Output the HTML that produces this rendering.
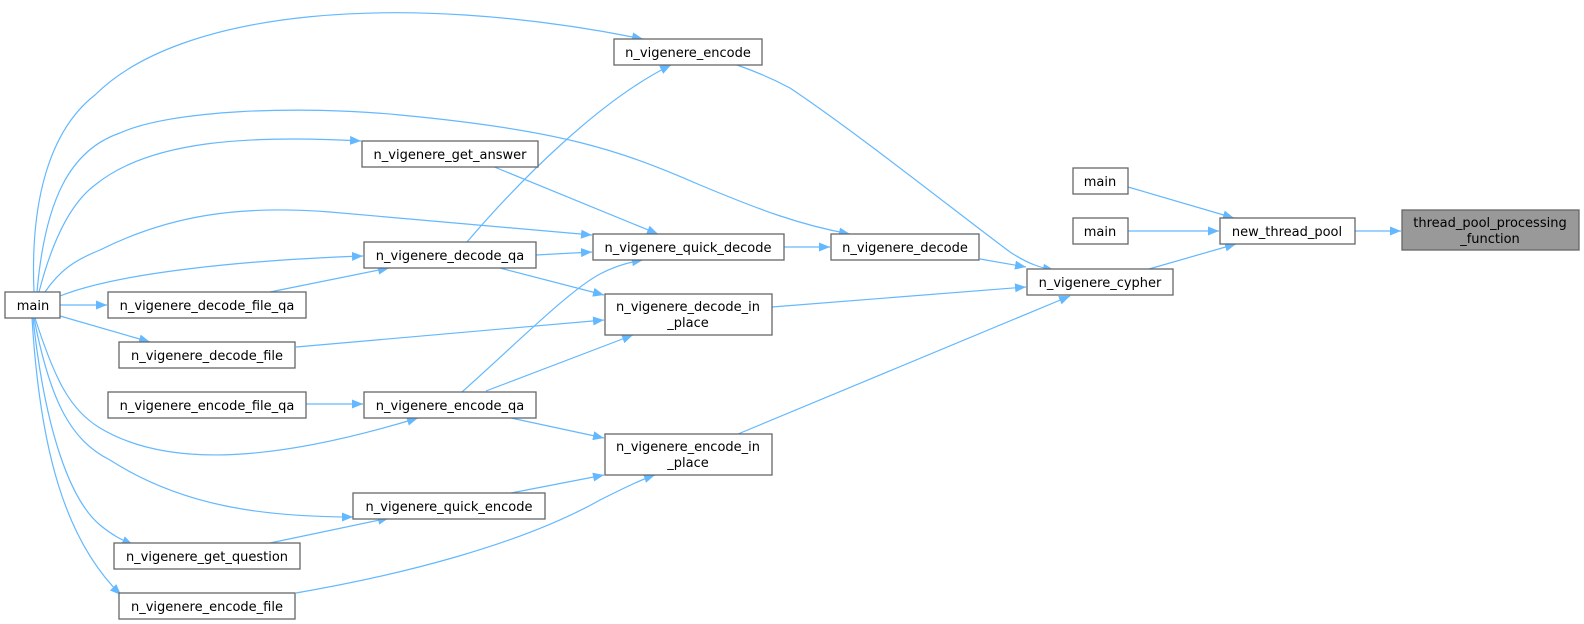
<!DOCTYPE html>
<html><head><meta charset="utf-8"><style>
html,body{margin:0;padding:0;background:#fff;}
svg{display:block;}
text{font-family:"DejaVu Sans","Liberation Sans",sans-serif;font-size:13px;fill:#000;text-anchor:middle;}
.n{fill:#fff;stroke:#666;stroke-width:1.3;}
.e{fill:none;stroke:#63b8ff;stroke-width:1.2;marker-end:url(#a);}
</style></head><body>
<svg width="1584" height="624" viewBox="0 0 1584 624" xmlns="http://www.w3.org/2000/svg">
<defs><marker id="a" markerUnits="userSpaceOnUse" markerWidth="12" markerHeight="10" refX="11" refY="4.5" orient="auto"><path d="M0,0 L11,4.5 L0,9 Z" fill="#63b8ff"/></marker></defs>

<!-- edges -->
<path class="e" d="M1355,231 L1401,231"/>
<path class="e" d="M1128,187 L1234,218"/>
<path class="e" d="M1128,231 L1219,231"/>
<path class="e" d="M1149,269 L1236,244"/>
<path class="e" d="M737,65 C760,73 775,80 790,88 C860,135 960,215 1010,252 C1030,265 1042,268 1054,270"/>
<path class="e" d="M980,259 L1026,267"/>
<path class="e" d="M772,307 L1026,287"/>
<path class="e" d="M738,434 L1070,296"/>
<path class="e" d="M784,247 L830,247"/>
<path class="e" d="M37,292 C45,200 70,150 120,133 C170,110 300,105 400,115 C560,130 620,150 700,185 C760,210 800,225 850,234"/>
<path class="e" d="M34,292 C30,200 50,130 95,95 C180,10 400,-10 643,39"/>
<path class="e" d="M39,292 C55,230 75,200 95,185 C150,140 250,135 361,141"/>
<path class="e" d="M45,292 C60,270 75,260 100,250 C170,215 240,205 330,212 C450,222 530,230 592,235"/>
<path class="e" d="M60,296 C120,272 250,260 363,256"/>
<path class="e" d="M60,305 L107,305"/>
<path class="e" d="M60,316 L150,342"/>
<path class="e" d="M35,318 C55,380 70,410 100,428 C170,470 280,460 418,418"/>
<path class="e" d="M34,318 C50,400 70,440 110,460 C180,505 260,517 353,517"/>
<path class="e" d="M33,318 C45,430 70,500 100,525 C112,535 122,540 133,545"/>
<path class="e" d="M32,318 C40,450 65,540 121,595"/>
<path class="e" d="M492,166 L658,234"/>
<path class="e" d="M536,255 L592,252"/>
<path class="e" d="M467,242 C520,180 600,100 671,65"/>
<path class="e" d="M500,268 L604,295"/>
<path class="e" d="M270,292 L389,268"/>
<path class="e" d="M296,347 L604,320"/>
<path class="e" d="M462,392 C520,340 570,290 600,274 C615,266 630,262 643,260"/>
<path class="e" d="M486,391 L633,335"/>
<path class="e" d="M306,404 L363,404"/>
<path class="e" d="M511,418 L604,438"/>
<path class="e" d="M511,493 L604,475"/>
<path class="e" d="M270,543 L389,518"/>
<path class="e" d="M296,593 C400,575 520,545 600,500 C620,490 640,480 655,475"/>

<!-- nodes -->
<rect x="1402" y="210" width="177" height="40" fill="#999" stroke="#666" stroke-width="1.3"/>
<text x="1490" y="227">thread_pool_processing</text><text x="1490" y="243">_function</text>
<rect class="n" x="1220" y="218" width="135" height="26"/><text x="1287" y="236">new_thread_pool</text>
<rect class="n" x="1073" y="168" width="55" height="26"/><text x="1100" y="186">main</text>
<rect class="n" x="1073" y="218" width="55" height="26"/><text x="1100" y="236">main</text>
<rect class="n" x="1027" y="269" width="146" height="26"/><text x="1100" y="287">n_vigenere_cypher</text>
<rect class="n" x="614" y="39" width="148" height="26"/><text x="688" y="57">n_vigenere_encode</text>
<rect class="n" x="831" y="234" width="148" height="26"/><text x="905" y="252">n_vigenere_decode</text>
<rect class="n" x="362" y="141" width="176" height="26"/><text x="450" y="159">n_vigenere_get_answer</text>
<rect class="n" x="593" y="234" width="191" height="26"/><text x="688" y="252">n_vigenere_quick_decode</text>
<rect class="n" x="364" y="242" width="172" height="26"/><text x="450" y="260">n_vigenere_decode_qa</text>
<rect class="n" x="605" y="294" width="167" height="41"/><text x="688" y="311">n_vigenere_decode_in</text><text x="688" y="327">_place</text>
<rect class="n" x="605" y="434" width="167" height="41"/><text x="688" y="451">n_vigenere_encode_in</text><text x="688" y="467">_place</text>
<rect class="n" x="5" y="292" width="55" height="26"/><text x="33" y="310">main</text>
<rect class="n" x="108" y="292" width="198" height="26"/><text x="207" y="310">n_vigenere_decode_file_qa</text>
<rect class="n" x="119" y="342" width="176" height="26"/><text x="207" y="360">n_vigenere_decode_file</text>
<rect class="n" x="108" y="392" width="198" height="26"/><text x="207" y="410">n_vigenere_encode_file_qa</text>
<rect class="n" x="364" y="392" width="172" height="26"/><text x="450" y="410">n_vigenere_encode_qa</text>
<rect class="n" x="353" y="493" width="192" height="26"/><text x="449" y="511">n_vigenere_quick_encode</text>
<rect class="n" x="114" y="543" width="186" height="26"/><text x="207" y="561">n_vigenere_get_question</text>
<rect class="n" x="119" y="593" width="176" height="26"/><text x="207" y="611">n_vigenere_encode_file</text>
</svg>
</body></html>
